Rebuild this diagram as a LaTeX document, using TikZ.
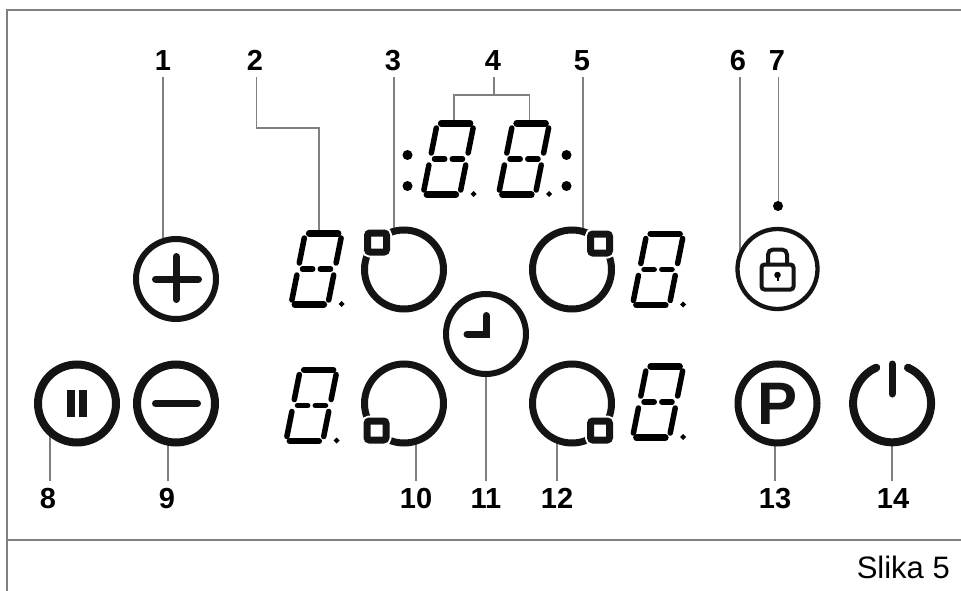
\documentclass[tikz,border=0pt]{standalone}
\usepackage{fontspec}
\setmainfont{Liberation Sans}
\usepackage{tikz}
\usetikzlibrary{backgrounds}
\definecolor{ink}{HTML}{141414}
\definecolor{rule}{HTML}{808080}
\tikzset{
	lab/.style={font=\fontsize{29}{29}\selectfont\bfseries,inner sep=0pt,text height=20.5pt,text depth=0pt,outer ysep=6.75pt},
	leader/.style={draw=rule,line width=1.3pt},
	frameline/.style={draw=rule,line width=2pt},
	ring/.style={circle,draw=ink,fill=white,inner sep=0pt,minimum size=#1},
	zone/.style={ring=79pt,line width=7pt},
	corner/.style={draw=ink,fill=white,line width=7pt,rounded corners=2.5pt,minimum size=19pt,inner sep=0pt,
		preaction={draw=white,line width=11pt}},
	glyph/.style={draw=ink,line width=7pt,line cap=round},
	dot/.style={circle,fill=black,inner sep=0pt,minimum size=#1},
	pics/segdigit/.style={code={
		\coordinate (-top) at (5.5,-39);
		\begin{scope}[xslant=0.2,line cap=round,draw=black]
		\draw[line width=6.5pt] (-14.5,-35.7) -- (14.5,-35.7);
		\draw[line width=6.5pt] (-14.5,35.7) -- (14.5,35.7);
		\draw[line width=5.5pt] (-14,0) -- (-3.8,0);
		\draw[line width=5.5pt] (3.8,0) -- (14,0);
		\draw[line width=5.5pt] (-18.4,-31) -- (-18.4,-6);
		\draw[line width=5.5pt] (18.4,-31) -- (18.4,-6);
		\draw[line width=5.5pt] (-18.4,6) -- (-18.4,31);
		\draw[line width=5.5pt] (18.4,6) -- (18.4,31);
		\end{scope}
		\fill[black] (25,32) -- (28,35) -- (25,38) -- (22,35) -- cycle;
	}}
}
\begin{document}
\begin{tikzpicture}[x=1pt,y=-1pt]
\useasboundingbox (0,0) rectangle (961,591);
\draw[frameline] (7,591) -- (7,10) -- (961,10);
\draw[frameline] (7,540) -- (961,540);
% labels
\node[lab] (lab1) at (163,60) {1};
\node[lab] (lab2) at (255,60) {2};
\node[lab] (lab3) at (393,60) {3};
\node[lab] (lab4) at (493,60) {4};
\node[lab] (lab5) at (582,60) {5};
\node[lab] (lab6) at (738,60) {6};
\node[lab] (lab7) at (777,60) {7};
\node[lab] (lab8) at (48,498) {8};
\node[lab] (lab9) at (167,498) {9};
\node[lab] (lab10) at (416,498) {10};
\node[lab] (lab11) at (486,498) {11};
\node[lab] (lab12) at (557,498) {12};
\node[lab] (lab13) at (775,498) {13};
\node[lab] (lab14) at (893,498) {14};
% buttons
\node[ring=80pt,line width=6pt] (plus) at (176,279) {};
\node[ring=78pt,line width=8pt] (pause) at (77,403.5) {};
\node[ring=78pt,line width=8pt] (minus) at (176,403.5) {};
\node[ring=80pt,line width=4.3pt] (lock) at (777.5,269) {};
\node[ring=79pt,line width=7pt,font=\fontsize{60}{60}\selectfont\bfseries,text=ink] (park) at (777.5,403.5) {P};
\node[ring=80pt,line width=6pt] (clock) at (486,334) {};
\node[circle,fill=white,inner sep=0pt,minimum size=78pt] (power) at (892,403.5) {};
\draw[glyph] (155.5,279) -- (198.5,279);
\draw[glyph] (176,256.5) -- (176,299.5);
\draw[glyph] (155.5,403.5) -- (197.5,403.5);
\draw[ink,line width=7.7pt] (71.2,390) -- (71.2,417);
\draw[ink,line width=7.7pt] (83.2,390) -- (83.2,417);
\draw[glyph,line join=miter] (486,315.5) -- (486,334) -- (467,334);
\draw[glyph,line width=8pt] (power.66) arc[start angle=66,end angle=-246,radius=39pt];
\draw[glyph] (892,364) -- (892,394);
% padlock
\draw[ink,line width=4pt,rounded corners=3pt] (761.5,264.5) rectangle (793.5,289.5);
\draw[ink,line width=4pt,rounded corners=5pt] (768,264.5) -- (768,249.5) -- (787,249.5) -- (787,264.5);
\node[dot=6.5pt] (keyhole) at (777.5,275) {};
\draw[black,line width=2pt] (keyhole) -- (777.5,281);
% zones
\node[zone] (zoneA) at (404,269.5) {};
\node[zone] (zoneB) at (572,269.5) {};
\node[zone] (zoneC) at (404,403.5) {};
\node[zone] (zoneD) at (572,403.5) {};
\node[corner] (cornerA) at (377,242.5) {};
\node[corner] (cornerB) at (600,243.5) {};
\node[corner] (cornerC) at (376.5,430.5) {};
\node[corner] (cornerD) at (600,430.5) {};
% displays
\pic (digA) at (316.5,269) {segdigit};
\pic (digB) at (311.5,405.5) {segdigit};
\pic (digC) at (658,269.5) {segdigit};
\pic (digD) at (658,402) {segdigit};
\pic (digE) at (448.5,159) {segdigit};
\pic (digF) at (524,159) {segdigit};
\node[dot=10pt] (colA) at (407.5,155) {};
\node[dot=10pt] (colB) at (407.5,186) {};
\node[dot=10pt] (colC) at (566.5,155) {};
\node[dot=10pt] (colD) at (566.5,186) {};
\node[dot=10pt] (lamp) at (778,206) {};
\coordinate (fork) at (494,95);
\coordinate (bend) at (319,128);
% leaders
\begin{pgfonlayer}{background}
\draw[leader] (lab1.south) -- (lab1.south |- plus);
\draw[leader] ([xshift=1.5pt]lab2.south) |- (bend) -- (bend |- digA-top);
\draw[leader] ([xshift=1pt]lab3.south) -- ([xshift=1pt]lab3.south |- zoneA);
\draw[leader] ([xshift=1pt]lab4.south) -- ([xshift=1pt]lab4.south |- fork);
\draw[leader] (digE-top) |- (fork) -| (digF-top);
\draw[leader] ([xshift=1pt]lab5.south) -- ([xshift=1pt]lab5.south |- zoneB);
\draw[leader] ([xshift=2pt]lab6.south) -- ([xshift=2pt]lab6.south |- lock);
\draw[leader] ([xshift=1.5pt]lab7.south) -- ([xshift=.5pt]lamp.center);
\draw[leader] ([xshift=2pt]lab8.north) -- ([xshift=2pt]lab8.north |- pause);
\draw[leader] ([xshift=1pt]lab9.north) -- ([xshift=1pt]lab9.north |- minus);
\draw[leader] (lab10.north) -- (lab10.north |- zoneC);
\draw[leader] (lab11.north) -- (clock);
\draw[leader] (lab12.north) -- (lab12.north |- zoneD);
\draw[leader] (lab13.north) -- (lab13.north |- park);
\draw[leader] ([xshift=-1pt]lab14.north) -- ([xshift=-1pt]lab14.north |- power);
\end{pgfonlayer}
\node[anchor=base east,font=\fontsize{31}{31}\selectfont,inner sep=0pt] (caption) at (950,578) {Slika 5};
\end{tikzpicture}
\end{document}
